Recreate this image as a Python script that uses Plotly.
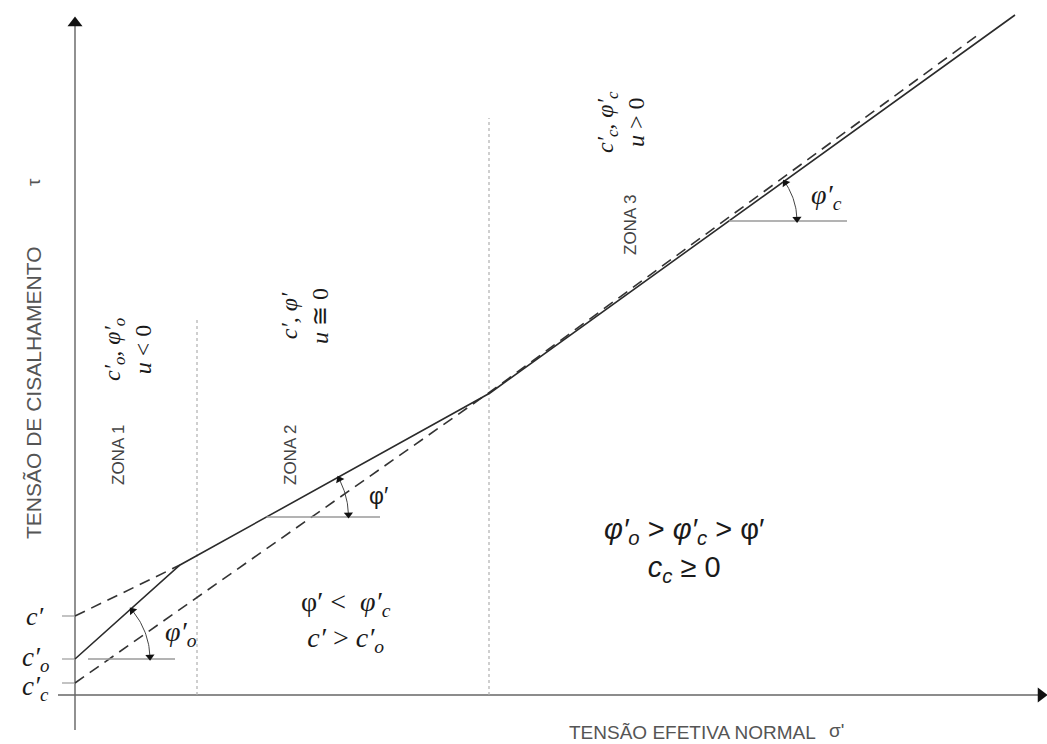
import math
import plotly.graph_objects as go

# ---- data (sigma' = effective normal stress, tau = shear stress; arbitrary units) ----
c_c = 1.2        # c'_c intercept
c_o = 3.6        # c'_o intercept
c_p = 7.9        # c' intercept

env_sigma = [0.0, 10.5, 41.5, 94.0]          # failure envelope (solid)
env_tau = [3.6, 13.0, 30.2, 68.0]

dash_cp_sigma = [0.0, 10.5]                  # zone-2 envelope extended to c'
dash_cp_tau = [7.9, 13.0]

dash_cc_sigma = [0.0, 41.5, 90.3]            # zone-3 envelope extended to c'_c
dash_cc_tau = [1.2, 30.3, 66.0]

zone_bounds = [12.2, 41.4]                   # vertical dotted zone boundaries
zone_bound_tops = [37.7, 57.7]

ref_sigma_start = [1.3, 19.15, 65.4]         # horizontal reference lines for angles
ref_sigma_end = [10.0, 30.5, 77.2]
ref_tau = [3.6, 17.8, 47.4]

arc_center_sigma = [0.0, 19.15, 65.4]
arc_center_tau = [3.6, 17.8, 47.4]
arc_radius = [7.5, 8.2, 6.8]
arc_slope = [0.895, 0.555, 0.72]

axis_sigma_min, axis_sigma_max = -1.7, 96.6
axis_tau_min, axis_tau_max = -3.5, 67.2

DARK = "#2b2b2b"
GRAY = "#9a9a9a"
SERIF = "Liberation Serif"
SANS = "Liberation Sans"

fig = go.Figure()

def line(xs, ys, color=DARK, width=1.5, dash="solid"):
    fig.add_trace(go.Scatter(x=xs, y=ys, mode="lines", hoverinfo="skip",
                             line=dict(color=color, width=width, dash=dash), showlegend=False))

def arrowheads(xs, ys, angles, size):
    fig.add_trace(go.Scatter(x=xs, y=ys, mode="markers", hoverinfo="skip", showlegend=False,
                             marker=dict(symbol="triangle-up", size=size, color="#111",
                                         angle=angles, line=dict(width=0))))

# axes with arrowheads
line([0, 0], [axis_tau_min, axis_tau_max], color="#555", width=1.3)
line([axis_sigma_min, axis_sigma_max], [0, 0], color="#666", width=1.3)
arrowheads([0, axis_sigma_max], [axis_tau_max, 0], [0, 90], 13)

# small ticks for intercepts
tx, ty = [], []
for c in (c_c, c_o, c_p):
    tx += [-1.3, 0, None]
    ty += [c, c, None]
line(tx, ty, color=GRAY, width=1.2)

# zone boundaries
for xb, top in zip(zone_bounds, zone_bound_tops):
    line([xb, xb], [0, top], color="#b0b0b0", width=1.2, dash="dot")

# dashed extensions
line(dash_cp_sigma, dash_cp_tau, color="#333", width=1.6, dash="11px,7px")
line(dash_cc_sigma, dash_cc_tau, color="#333", width=1.6, dash="11px,7px")

# envelope
line(env_sigma, env_tau, color=DARK, width=1.6)

# reference horizontals
for a, b, t in zip(ref_sigma_start, ref_sigma_end, ref_tau):
    line([a, b], [t, t], color=GRAY, width=1.4)

# angle arcs with arrowheads at both ends
hx, hy, ha = [], [], []
for cx, cy, r, s in zip(arc_center_sigma, arc_center_tau, arc_radius, arc_slope):
    th_end = math.atan(s) - 0.03
    th_start = 0.03
    n = 24
    ths = [th_start + (th_end - th_start) * i / n for i in range(n + 1)]
    line([cx + r * math.cos(t) for t in ths], [cy + r * math.sin(t) for t in ths],
         color="#444", width=1)
    hx += [cx + r * math.cos(th_end), cx + r * math.cos(th_start)]
    hy += [cy + r * math.sin(th_end), cy + r * math.sin(th_start)]
    ha += [-math.degrees(th_end), 180 - math.degrees(th_start)]
arrowheads(hx, hy, ha, 8)

def px_to_data(px, py):
    return (px - 75) / 10.0, (695 - py) / 10.0

annotations = []

def text(px, py, s, size, family=SERIF, color="#1a1a1a", angle=0, align="center"):
    x, y = px_to_data(px, py)
    annotations.append(dict(x=x, y=y, xref="x", yref="y", text=s, showarrow=False,
                            textangle=angle, align=align,
                            font=dict(size=size, family=family, color=color)))

# axis titles
text(33, 393, "TENSÃO DE CISALHAMENTO", 21, SANS, "#555", -90)
text(33, 182, "τ", 19, SANS, "#555", -90)
text(692, 732, "TENSÃO EFETIVA NORMAL", 19, SANS, "#555")
text(836, 730, "σ'", 19, SANS, "#555")

# intercept labels
text(35, 616, "<i>c′</i>", 26)
text(35, 659, "<i>c′<sub>o</sub></i>", 27)
text(35, 688, "<i>c′<sub>c</sub></i>", 27)

# zone labels
text(118, 455, "ZONA 1", 17, SANS, "#444", -90)
text(290, 455, "ZONA 2", 17, SANS, "#444", -90)
text(630, 225, "ZONA 3", 17, SANS, "#444", -90)

# zone parameters
text(127, 350, "<i>c′<sub>o</sub>, φ′<sub>o</sub></i><br><i>u</i> &lt; 0", 24, SERIF, angle=-90)
text(304, 316, "<i>c′, φ′</i><br><i>u</i> ≅ 0", 24, SERIF, angle=-90)
text(620, 122, "<i>c′<sub>c</sub>, φ′<sub>c</sub></i><br><i>u</i> &gt; 0", 24, SERIF, angle=-90)

# angle labels
text(181, 633, "<i>φ′<sub>o</sub></i>", 28)
text(378, 496, "φ′", 23, SANS)
text(826, 196, "<i>φ′<sub>c</sub></i>", 28)

# relations
text(346, 621, "φ′ &lt;  <i>φ′<sub>c</sub></i><br><i>c′</i> &gt; <i>c′<sub>o</sub></i>", 28)
text(684, 550, "<i>φ′<sub>o</sub></i> &gt; <i>φ′<sub>c</sub></i> &gt; φ′<br><i>c<sub>c</sub></i> ≥ 0", 29, SANS)

fig.update_layout(
    width=1047, height=744,
    margin=dict(l=0, r=0, t=0, b=0),
    paper_bgcolor="white", plot_bgcolor="white",
    xaxis=dict(range=[-7.5, 97.2], visible=False, fixedrange=True),
    yaxis=dict(range=[-4.9, 69.5], visible=False, fixedrange=True),
    annotations=annotations,
    showlegend=False,
)

fig.write_html("out.html", config={"displayModeBar": False},
               post_script="document.body.style.margin='0';document.body.style.overflow='hidden';")
